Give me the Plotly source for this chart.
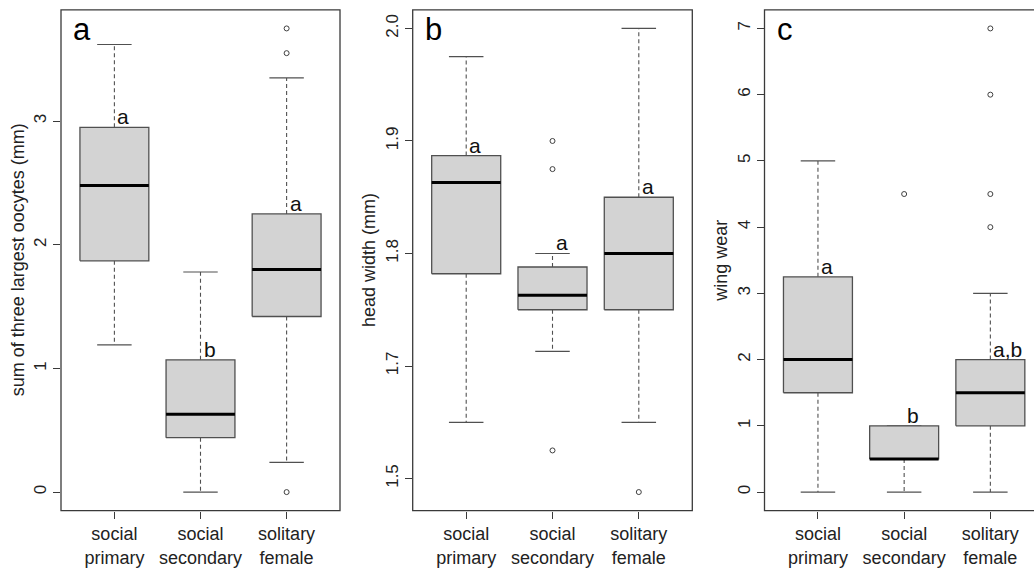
import plotly.graph_objects as go

W, H = 1034, 568

categories = ["social<br>primary", "social<br>secondary", "solitary<br>female"]

# Panel a: sum of three largest oocytes (mm)
a_lower = [1.19, 0.00, 0.24]
a_q1 = [1.87, 0.44, 1.42]
a_median = [2.48, 0.63, 1.80]
a_q3 = [2.95, 1.07, 2.25]
a_upper = [3.62, 1.78, 3.35]
a_outliers = [[], [], [3.75, 3.55, 0.0]]
a_letters = ["a", "b", "a"]
a_letter_y = [2.95, 1.07, 2.25]
a_ticks = [0, 1, 2, 3]
a_ticktext = ["0", "1", "2", "3"]

# Panel b: head width (mm)
b_lower = [1.650, 1.713, 1.650]
b_q1 = [1.782, 1.750, 1.750]
b_median = [1.863, 1.763, 1.800]
b_q3 = [1.887, 1.788, 1.850]
b_upper = [1.975, 1.800, 2.000]
b_outliers = [[], [1.900, 1.875, 1.625], [1.588]]
b_letters = ["a", "a", "a"]
b_letter_y = [1.887, 1.800, 1.850]
b_ticks = [1.6, 1.7, 1.8, 1.9, 2.0]
b_ticktext = ["1.5", "1.7", "1.8", "1.9", "2.0"]

# Panel c: wing wear
c_lower = [0.0, 0.0, 0.0]
c_q1 = [1.5, 0.5, 1.0]
c_median = [2.0, 0.5, 1.5]
c_q3 = [3.25, 1.0, 2.0]
c_upper = [5.0, 1.0, 3.0]
c_outliers = [[], [4.5], [7.0, 6.0, 4.5, 4.0]]
c_letters = ["a", "b", "a,b"]
c_letter_y = [3.25, 1.0, 2.0]
c_ticks = [0, 1, 2, 3, 4, 5, 6, 7]
c_ticktext = [str(v) for v in c_ticks]

panels = [
    dict(name="a", title="sum of three largest oocytes (mm)",
         lower=a_lower, q1=a_q1, med=a_median, q3=a_q3, upper=a_upper,
         out=a_outliers, letters=a_letters, ly=a_letter_y,
         ticks=a_ticks, ticktext=a_ticktext, yr=[-0.15, 3.90],
         px=(61, 340), xr=[0.38, 3.62]),
    dict(name="b", title="head width (mm)",
         lower=b_lower, q1=b_q1, med=b_median, q3=b_q3, upper=b_upper,
         out=b_outliers, letters=b_letters, ly=b_letter_y,
         ticks=b_ticks, ticktext=b_ticktext, yr=[1.5715, 2.0165],
         px=(412.7, 692.3), xr=[0.38, 3.62]),
    dict(name="c", title="wing wear",
         lower=c_lower, q1=c_q1, med=c_median, q3=c_q3, upper=c_upper,
         out=c_outliers, letters=c_letters, ly=c_letter_y,
         ticks=c_ticks, ticktext=c_ticktext, yr=[-0.28, 7.28],
         px=(764.5, 1043.8), xr=[0.38, 3.62]),
]

TOP, BOT = 10, 517
FONT = "Liberation Sans, Arial, Helvetica, sans-serif"
FRAME = "#3a3a3a"
BOXLINE = "#505050"
WHISK = "#505050"
BW = 0.8
CAPW = 0.4

fig = go.Figure()
layout = dict(width=W, height=H, margin=dict(l=0, r=0, t=0, b=0),
              paper_bgcolor="white", plot_bgcolor="white",
              showlegend=False, shapes=[], annotations=[])

for i, p in enumerate(panels):
    k = "" if i == 0 else str(i + 1)
    xa, ya = "x" + k, "y" + k
    x0p, x1p = p["px"]
    xr = list(p["xr"])
    upp = (x1p - x0p) / (xr[1] - xr[0])
    if x1p > W:
        xr[1] = xr[0] + (W - x0p) / upp
        x1d = 1.0
    else:
        x1d = x1p / W
    dom_x = [x0p / W, x1d]
    dom_y = [1 - BOT / H, 1 - TOP / H]

    cats = [1, 2, 3]
    wx, wy = [], []
    for j, c in enumerate(cats):
        wx += [c, c, None, c, c, None]
        wy += [p["q3"][j], p["upper"][j], None, p["q1"][j], p["lower"][j], None]
    fig.add_trace(go.Scatter(x=wx, y=wy, mode="lines", xaxis=xa, yaxis=ya,
                             line=dict(color=WHISK, width=1.1, dash="4px,3px"),
                             hoverinfo="skip"))
    cx, cy = [], []
    for j, c in enumerate(cats):
        cx += [c - CAPW / 2, c + CAPW / 2, None, c - CAPW / 2, c + CAPW / 2, None]
        cy += [p["upper"][j], p["upper"][j], None, p["lower"][j], p["lower"][j], None]
    fig.add_trace(go.Scatter(x=cx, y=cy, mode="lines", xaxis=xa, yaxis=ya,
                             line=dict(color=WHISK, width=1.2), hoverinfo="skip"))
    for j, c in enumerate(cats):
        fig.add_trace(go.Scatter(
            x=[c - BW / 2, c + BW / 2, c + BW / 2, c - BW / 2, c - BW / 2],
            y=[p["q1"][j], p["q1"][j], p["q3"][j], p["q3"][j], p["q1"][j]],
            mode="lines", fill="toself", fillcolor="#d3d3d3",
            line=dict(color=BOXLINE, width=1.3), xaxis=xa, yaxis=ya,
            hoverinfo="skip"))
    mx, my = [], []
    for j, c in enumerate(cats):
        mx += [c - BW / 2, c + BW / 2, None]
        my += [p["med"][j], p["med"][j], None]
    fig.add_trace(go.Scatter(x=mx, y=my, mode="lines", xaxis=xa, yaxis=ya,
                             line=dict(color="black", width=3), hoverinfo="skip"))
    ox, oy = [], []
    for j, c in enumerate(cats):
        for v in p["out"][j]:
            ox.append(c)
            oy.append(v)
    fig.add_trace(go.Scatter(x=ox, y=oy, mode="markers", xaxis=xa, yaxis=ya,
                             marker=dict(symbol="circle-open", size=5,
                                         color="#404040", line=dict(width=1)),
                             hoverinfo="skip"))
    for j, c in enumerate(cats):
        layout["annotations"].append(dict(
            x=c, y=p["ly"][j], xref=xa, yref=ya, text=p["letters"][j],
            showarrow=False, xanchor="left", yanchor="bottom", xshift=1, yshift=-3,
            font=dict(family=FONT, size=21, color="#111")))
    layout["annotations"].append(dict(
        x=(x0p + 10) / W, y=1 - 10 / H, xref="paper", yref="paper",
        text=p["name"], showarrow=False, xanchor="left", yanchor="top",
        font=dict(family=FONT, size=31, color="black")))
    layout["annotations"].append(dict(
        x=(x0p - 43) / W, y=1 - ((TOP + BOT) / 2) / H, xref="paper", yref="paper",
        text=p["title"], textangle=-90, showarrow=False,
        xanchor="center", yanchor="middle",
        font=dict(family=FONT, size=18, color="#222")))
    layout["shapes"].append(dict(
        type="rect", xref="paper", yref="paper",
        x0=x0p / W, x1=x1p / W, y0=dom_y[0], y1=dom_y[1],
        line=dict(color=FRAME, width=1.3), fillcolor="rgba(0,0,0,0)", layer="above"))

    layout["xaxis" + k] = dict(
        domain=dom_x, range=xr, anchor=ya, showgrid=False, zeroline=False,
        showline=False, ticks="outside", ticklen=7, tickwidth=1.2, tickcolor=FRAME,
        tickvals=cats, ticktext=categories, fixedrange=True,
        tickfont=dict(family=FONT, size=18, color="#222"))
    layout["yaxis" + k] = dict(
        domain=dom_y, range=p["yr"], anchor=xa, showgrid=False, zeroline=False,
        showline=False, ticks="outside", ticklen=7, tickwidth=1.2, tickcolor=FRAME,
        tickvals=p["ticks"], ticktext=p["ticktext"], tickangle=-90, fixedrange=True,
        tickfont=dict(family=FONT, size=17, color="#222"))

fig.update_layout(**layout)
fig.write_html("out.html", config={"displayModeBar": False},
               post_script="document.body.style.margin='0';document.body.style.overflow='hidden';")
